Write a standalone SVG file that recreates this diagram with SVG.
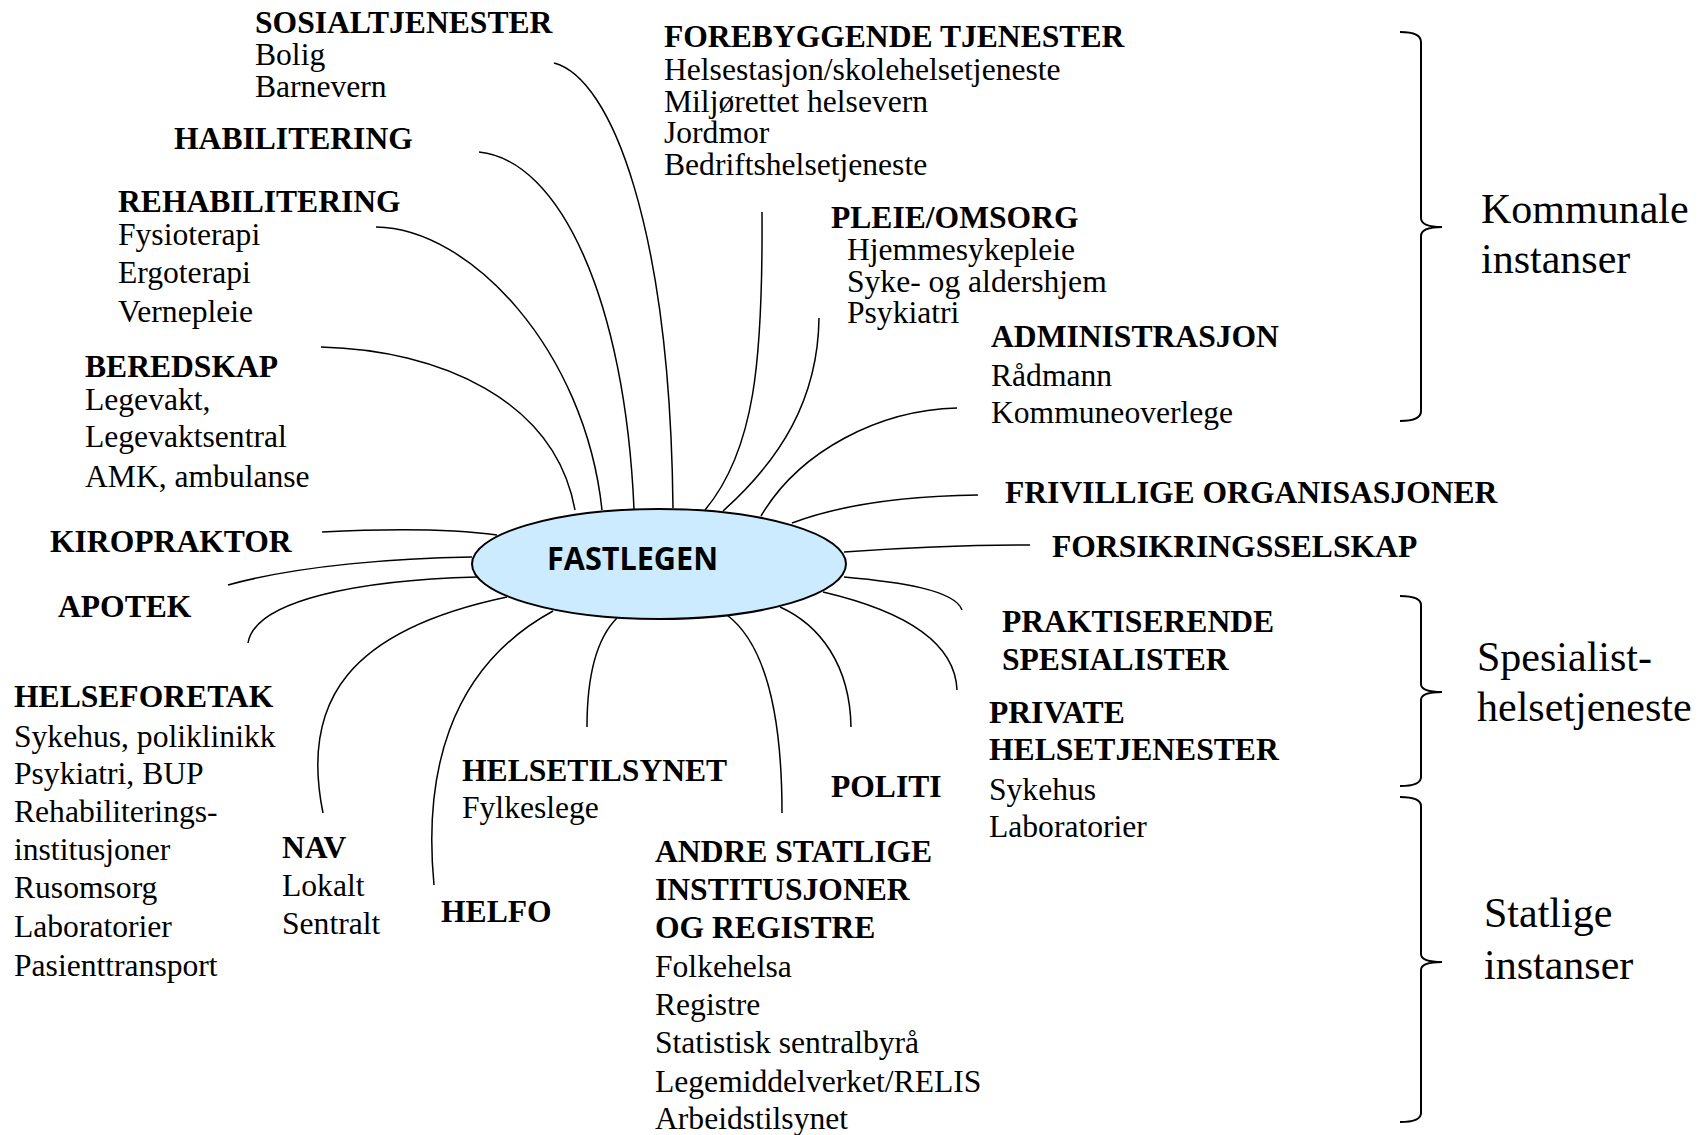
<svg xmlns="http://www.w3.org/2000/svg" width="1708" height="1135" viewBox="0 0 1708 1135">
<style>
  text { font-family: "Liberation Serif", "Times New Roman", serif; font-size: 31.6px; fill: #000; }
  .b { font-weight: bold; }
  .big { font-size: 42px; }
  .conn path { fill: none; stroke: #000; stroke-width: 1.5; }
  .brace { fill: none; stroke: #000; stroke-width: 2; }
  .center-label { font-family: "Open Sans", "Liberation Sans", sans-serif; font-weight: bold; font-size: 32px; }
</style>
<rect width="1708" height="1135" fill="#fff"/>

<g id="connectors" class="conn">
  <path d="M554,63 C612,78 670,230 673,508"/>
  <path d="M479,152 C560,160 625,300 634,509"/>
  <path d="M376,227 C470,228 585,350 602,510"/>
  <path d="M321,347 C440,350 555,400 575,510"/>
  <path d="M762,212 C763,360 755,450 705,510"/>
  <path d="M819,318 C818,400 780,460 723,511"/>
  <path d="M957,408 C880,410 800,450 761,516"/>
  <path d="M792,523 C840,505 900,496 978,495"/>
  <path d="M844,552 C900,548 960,545 1030,545"/>
  <path d="M844,577 C900,582 955,590 962,610"/>
  <path d="M823,592 C900,610 955,640 957,690"/>
  <path d="M780,607 C820,625 850,665 851,727"/>
  <path d="M727,615 C760,640 782,700 782,813"/>
  <path d="M617,618 C595,640 587,680 587,727"/>
  <path d="M553,611 C445,670 424,780 434,885"/>
  <path d="M507,597 C350,630 300,700 323,813"/>
  <path d="M477,577 C360,580 255,600 248,643"/>
  <path d="M472,557 C400,558 300,565 228,585"/>
  <path d="M497,535 C460,530 400,528 322,532"/>
</g>

<g id="fastlegen">
  <ellipse cx="659" cy="564" rx="187" ry="55" fill="#CCEBFF" stroke="#000" stroke-width="2"/>
  <text class="center-label" x="547" y="570" textLength="171" lengthAdjust="spacingAndGlyphs">FASTLEGEN</text>
</g>

<g id="sosialtjenester">
  <text class="b" x="255" y="33">SOSIALTJENESTER</text>
  <text x="255" y="65">Bolig</text>
  <text x="255" y="97">Barnevern</text>
</g>
<g id="habilitering">
  <text class="b" x="174" y="149">HABILITERING</text>
</g>
<g id="rehabilitering">
  <text class="b" x="118" y="212">REHABILITERING</text>
  <text x="118" y="245">Fysioterapi</text>
  <text x="118" y="283">Ergoterapi</text>
  <text x="118" y="322">Vernepleie</text>
</g>
<g id="beredskap">
  <text class="b" x="85" y="377">BEREDSKAP</text>
  <text x="85" y="410">Legevakt,</text>
  <text x="85" y="447">Legevaktsentral</text>
  <text x="85" y="487">AMK, ambulanse</text>
</g>
<g id="kiropraktor">
  <text class="b" x="50" y="552">KIROPRAKTOR</text>
</g>
<g id="apotek">
  <text class="b" x="58" y="617">APOTEK</text>
</g>
<g id="helseforetak">
  <text class="b" x="14" y="707">HELSEFORETAK</text>
  <text x="14" y="747">Sykehus, poliklinikk</text>
  <text x="14" y="784">Psykiatri, BUP</text>
  <text x="14" y="822">Rehabiliterings-</text>
  <text x="14" y="860">institusjoner</text>
  <text x="14" y="898">Rusomsorg</text>
  <text x="14" y="937">Laboratorier</text>
  <text x="14" y="976">Pasienttransport</text>
</g>
<g id="nav">
  <text class="b" x="282" y="858">NAV</text>
  <text x="282" y="896">Lokalt</text>
  <text x="282" y="934">Sentralt</text>
</g>
<g id="helfo">
  <text class="b" x="441" y="922">HELFO</text>
</g>
<g id="helsetilsynet">
  <text class="b" x="462" y="781">HELSETILSYNET</text>
  <text x="462" y="818">Fylkeslege</text>
</g>
<g id="andre-statlige">
  <text class="b" x="655" y="862">ANDRE STATLIGE</text>
  <text class="b" x="655" y="900">INSTITUSJONER</text>
  <text class="b" x="655" y="938">OG REGISTRE</text>
  <text x="655" y="977">Folkehelsa</text>
  <text x="655" y="1015">Registre</text>
  <text x="655" y="1053">Statistisk sentralbyrå</text>
  <text x="655" y="1092">Legemiddelverket/RELIS</text>
  <text x="655" y="1129">Arbeidstilsynet</text>
</g>
<g id="politi">
  <text class="b" x="831" y="797">POLITI</text>
</g>
<g id="private-helsetjenester">
  <text class="b" x="989" y="723">PRIVATE</text>
  <text class="b" x="989" y="760">HELSETJENESTER</text>
  <text x="989" y="800">Sykehus</text>
  <text x="989" y="837">Laboratorier</text>
</g>
<g id="praktiserende-spesialister">
  <text class="b" x="1002" y="632">PRAKTISERENDE</text>
  <text class="b" x="1002" y="670">SPESIALISTER</text>
</g>
<g id="forsikringsselskap">
  <text class="b" x="1052" y="557">FORSIKRINGSSELSKAP</text>
</g>
<g id="frivillige-organisasjoner">
  <text class="b" x="1005" y="503">FRIVILLIGE ORGANISASJONER</text>
</g>
<g id="administrasjon">
  <text class="b" x="991" y="347">ADMINISTRASJON</text>
  <text x="991" y="386">Rådmann</text>
  <text x="991" y="423">Kommuneoverlege</text>
</g>
<g id="pleie-omsorg">
  <text class="b" x="831" y="228">PLEIE/OMSORG</text>
  <text x="847" y="260">Hjemmesykepleie</text>
  <text x="847" y="292">Syke- og aldershjem</text>
  <text x="847" y="323">Psykiatri</text>
</g>
<g id="forebyggende-tjenester">
  <text class="b" x="664" y="47">FOREBYGGENDE TJENESTER</text>
  <text x="664" y="80">Helsestasjon/skolehelsetjeneste</text>
  <text x="664" y="112">Miljørettet helsevern</text>
  <text x="664" y="143">Jordmor</text>
  <text x="664" y="175">Bedriftshelsetjeneste</text>
</g>

<g id="group-kommunale">
  <path class="brace" d="M1400,32 Q1421,32 1421,42 L1421,218 Q1421,227 1442,227 Q1421,227 1421,236 L1421,411 Q1421,421 1400,421"/>
  <text class="big" x="1481" y="223">Kommunale</text>
  <text class="big" x="1481" y="273">instanser</text>
</g>
<g id="group-spesialist">
  <path class="brace" d="M1400,596 Q1421,596 1421,605 L1421,684 Q1421,692 1442,692 Q1421,692 1421,700 L1421,777 Q1421,786 1400,786"/>
  <text class="big" x="1477" y="671">Spesialist-</text>
  <text class="big" x="1477" y="721">helsetjeneste</text>
</g>
<g id="group-statlige">
  <path class="brace" d="M1400,797 Q1421,797 1421,806 L1421,954 Q1421,962 1442,962 Q1421,962 1421,970 L1421,1113 Q1421,1122 1400,1122"/>
  <text class="big" x="1484" y="927">Statlige</text>
  <text class="big" x="1484" y="979">instanser</text>
</g>
</svg>
